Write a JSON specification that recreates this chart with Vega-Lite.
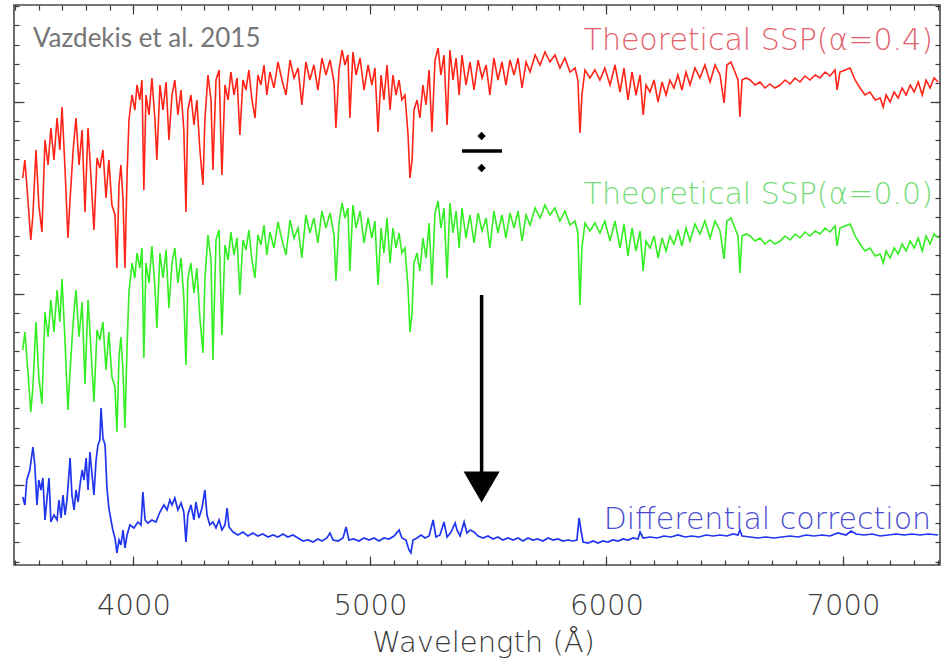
{
"$schema": "https://vega.github.io/schema/vega-lite/v6.json",
"width": 926, "height": 560,
"autosize": {"type": "none"},
"padding": {"left": 14, "top": 5, "right": 4, "bottom": 94},
"background": "white",
"config": {
  "view": {"stroke": "#4a4a4a", "strokeWidth": 1.6},
  "axis": {"domain": false, "grid": false, "tickColor": "#3c3c3c", "tickWidth": 1.2, "labelFont": "DejaVu Sans", "titleFont": "DejaVu Sans"}
},
"resolve": {"axis": {"x": "independent", "y": "independent"}},
"datasets": {
"red": [
{"wavelength":3532,"flux":387},{"wavelength":3541,"flux":405},{"wavelength":3554,"flux":365},{"wavelength":3566,"flux":325},{"wavelength":3575,"flux":350},{"wavelength":3588,"flux":415},{"wavelength":3600,"flux":360},{"wavelength":3613,"flux":333},{"wavelength":3626,"flux":425},{"wavelength":3639,"flux":400},{"wavelength":3651,"flux":437},{"wavelength":3664,"flux":405},{"wavelength":3677,"flux":447},{"wavelength":3689,"flux":415},{"wavelength":3698,"flux":458},{"wavelength":3711,"flux":395},{"wavelength":3723,"flux":327},{"wavelength":3732,"flux":365},{"wavelength":3745,"flux":415},{"wavelength":3757,"flux":447},{"wavelength":3770,"flux":400},{"wavelength":3783,"flux":435},{"wavelength":3795,"flux":353},{"wavelength":3808,"flux":437},{"wavelength":3820,"flux":390},{"wavelength":3833,"flux":335},{"wavelength":3846,"flux":407},{"wavelength":3858,"flux":397},{"wavelength":3871,"flux":415},{"wavelength":3884,"flux":367},{"wavelength":3896,"flux":405},{"wavelength":3909,"flux":360},{"wavelength":3922,"flux":350},{"wavelength":3930,"flux":297},{"wavelength":3939,"flux":380},{"wavelength":3947,"flux":400},{"wavelength":3956,"flux":365},{"wavelength":3964,"flux":297},{"wavelength":3973,"flux":390},{"wavelength":3981,"flux":445},{"wavelength":3994,"flux":470},{"wavelength":4006,"flux":455},{"wavelength":4015,"flux":480},{"wavelength":4027,"flux":465},{"wavelength":4036,"flux":485},{"wavelength":4044,"flux":375},{"wavelength":4053,"flux":470},{"wavelength":4066,"flux":450},{"wavelength":4078,"flux":487},{"wavelength":4091,"flux":445},{"wavelength":4099,"flux":405},{"wavelength":4112,"flux":480},{"wavelength":4125,"flux":455},{"wavelength":4138,"flux":483},{"wavelength":4150,"flux":425},{"wavelength":4163,"flux":470},{"wavelength":4175,"flux":485},{"wavelength":4188,"flux":450},{"wavelength":4201,"flux":475},{"wavelength":4213,"flux":435},{"wavelength":4222,"flux":353},{"wavelength":4230,"flux":455},{"wavelength":4243,"flux":470},{"wavelength":4256,"flux":440},{"wavelength":4268,"flux":465},{"wavelength":4281,"flux":415},{"wavelength":4294,"flux":380},{"wavelength":4302,"flux":445},{"wavelength":4315,"flux":490},{"wavelength":4328,"flux":465},{"wavelength":4336,"flux":395},{"wavelength":4349,"flux":485},{"wavelength":4362,"flux":495},{"wavelength":4374,"flux":390},{"wavelength":4387,"flux":480},{"wavelength":4400,"flux":465},{"wavelength":4412,"flux":493},{"wavelength":4425,"flux":470},{"wavelength":4438,"flux":487},{"wavelength":4450,"flux":430},{"wavelength":4463,"flux":485},{"wavelength":4476,"flux":475},{"wavelength":4488,"flux":495},{"wavelength":4501,"flux":465},{"wavelength":4514,"flux":447},{"wavelength":4526,"flux":490},{"wavelength":4539,"flux":480},{"wavelength":4552,"flux":500},{"wavelength":4564,"flux":470},{"wavelength":4577,"flux":493},{"wavelength":4594,"flux":477},{"wavelength":4611,"flux":503},{"wavelength":4628,"flux":485},{"wavelength":4645,"flux":470},{"wavelength":4662,"flux":505},{"wavelength":4679,"flux":487},{"wavelength":4696,"flux":497},{"wavelength":4712,"flux":460},{"wavelength":4729,"flux":503},{"wavelength":4746,"flux":485},{"wavelength":4763,"flux":500},{"wavelength":4780,"flux":475},{"wavelength":4797,"flux":507},{"wavelength":4814,"flux":490},{"wavelength":4831,"flux":505},{"wavelength":4848,"flux":483},{"wavelength":4856,"flux":437},{"wavelength":4869,"flux":495},{"wavelength":4882,"flux":515},{"wavelength":4894,"flux":500},{"wavelength":4907,"flux":510},{"wavelength":4915,"flux":447},{"wavelength":4928,"flux":513},{"wavelength":4941,"flux":490},{"wavelength":4958,"flux":507},{"wavelength":4975,"flux":475},{"wavelength":4992,"flux":500},{"wavelength":5008,"flux":480},{"wavelength":5021,"flux":497},{"wavelength":5034,"flux":433},{"wavelength":5047,"flux":490},{"wavelength":5059,"flux":465},{"wavelength":5072,"flux":500},{"wavelength":5085,"flux":455},{"wavelength":5097,"flux":490},{"wavelength":5110,"flux":470},{"wavelength":5123,"flux":485},{"wavelength":5135,"flux":465},{"wavelength":5148,"flux":470},{"wavelength":5161,"flux":430},{"wavelength":5169,"flux":387},{"wavelength":5178,"flux":405},{"wavelength":5186,"flux":455},{"wavelength":5199,"flux":465},{"wavelength":5211,"flux":447},{"wavelength":5224,"flux":480},{"wavelength":5237,"flux":460},{"wavelength":5250,"flux":495},{"wavelength":5262,"flux":433},{"wavelength":5275,"flux":505},{"wavelength":5288,"flux":517},{"wavelength":5300,"flux":490},{"wavelength":5313,"flux":510},{"wavelength":5326,"flux":440},{"wavelength":5338,"flux":515},{"wavelength":5351,"flux":485},{"wavelength":5364,"flux":507},{"wavelength":5377,"flux":470},{"wavelength":5389,"flux":510},{"wavelength":5406,"flux":480},{"wavelength":5423,"flux":503},{"wavelength":5440,"flux":475},{"wavelength":5457,"flux":505},{"wavelength":5474,"flux":487},{"wavelength":5491,"flux":500},{"wavelength":5507,"flux":470},{"wavelength":5524,"flux":507},{"wavelength":5541,"flux":485},{"wavelength":5558,"flux":503},{"wavelength":5575,"flux":480},{"wavelength":5592,"flux":505},{"wavelength":5609,"flux":490},{"wavelength":5626,"flux":507},{"wavelength":5643,"flux":477},{"wavelength":5660,"flux":503},{"wavelength":5677,"flux":493},{"wavelength":5698,"flux":510},{"wavelength":5719,"flux":500},{"wavelength":5740,"flux":513},{"wavelength":5761,"flux":503},{"wavelength":5782,"flux":510},{"wavelength":5803,"flux":497},{"wavelength":5824,"flux":507},{"wavelength":5846,"flux":493},{"wavelength":5867,"flux":497},{"wavelength":5879,"flux":485},{"wavelength":5888,"flux":432},{"wavelength":5896,"flux":470},{"wavelength":5909,"flux":495},{"wavelength":5930,"flux":487},{"wavelength":5951,"flux":495},{"wavelength":5972,"flux":485},{"wavelength":5993,"flux":497},{"wavelength":6015,"flux":480},{"wavelength":6036,"flux":500},{"wavelength":6057,"flux":473},{"wavelength":6074,"flux":497},{"wavelength":6091,"flux":465},{"wavelength":6108,"flux":493},{"wavelength":6125,"flux":470},{"wavelength":6142,"flux":490},{"wavelength":6155,"flux":450},{"wavelength":6167,"flux":480},{"wavelength":6184,"flux":473},{"wavelength":6201,"flux":485},{"wavelength":6218,"flux":463},{"wavelength":6235,"flux":483},{"wavelength":6252,"flux":470},{"wavelength":6268,"flux":485},{"wavelength":6285,"flux":477},{"wavelength":6302,"flux":490},{"wavelength":6319,"flux":475},{"wavelength":6336,"flux":493},{"wavelength":6353,"flux":480},{"wavelength":6374,"flux":497},{"wavelength":6395,"flux":487},{"wavelength":6416,"flux":500},{"wavelength":6438,"flux":483},{"wavelength":6459,"flux":500},{"wavelength":6480,"flux":490},{"wavelength":6497,"flux":462},{"wavelength":6509,"flux":500},{"wavelength":6526,"flux":503},{"wavelength":6543,"flux":493},{"wavelength":6556,"flux":485},{"wavelength":6564,"flux":448},{"wavelength":6573,"flux":485},{"wavelength":6590,"flux":487},{"wavelength":6607,"flux":485},{"wavelength":6628,"flux":480},{"wavelength":6649,"flux":483},{"wavelength":6670,"flux":477},{"wavelength":6691,"flux":481},{"wavelength":6712,"flux":477},{"wavelength":6734,"flux":480},{"wavelength":6755,"flux":485},{"wavelength":6776,"flux":481},{"wavelength":6797,"flux":487},{"wavelength":6818,"flux":483},{"wavelength":6839,"flux":489},{"wavelength":6860,"flux":485},{"wavelength":6882,"flux":490},{"wavelength":6903,"flux":487},{"wavelength":6924,"flux":493},{"wavelength":6945,"flux":489},{"wavelength":6966,"flux":495},{"wavelength":6975,"flux":475},{"wavelength":6987,"flux":493},{"wavelength":7009,"flux":495},{"wavelength":7030,"flux":497},{"wavelength":7051,"flux":485},{"wavelength":7072,"flux":477},{"wavelength":7093,"flux":470},{"wavelength":7114,"flux":473},{"wavelength":7136,"flux":465},{"wavelength":7157,"flux":467},{"wavelength":7170,"flux":458},{"wavelength":7182,"flux":470},{"wavelength":7199,"flux":463},{"wavelength":7216,"flux":473},{"wavelength":7233,"flux":467},{"wavelength":7250,"flux":477},{"wavelength":7267,"flux":470},{"wavelength":7284,"flux":480},{"wavelength":7301,"flux":473},{"wavelength":7318,"flux":483},{"wavelength":7335,"flux":470},{"wavelength":7351,"flux":485},{"wavelength":7368,"flux":477},{"wavelength":7385,"flux":487},{"wavelength":7402,"flux":483}
],
"green": [
{"wavelength":3532,"flux":215},{"wavelength":3541,"flux":233},{"wavelength":3554,"flux":193},{"wavelength":3566,"flux":153},{"wavelength":3575,"flux":178},{"wavelength":3588,"flux":243},{"wavelength":3600,"flux":188},{"wavelength":3613,"flux":161},{"wavelength":3626,"flux":253},{"wavelength":3639,"flux":228},{"wavelength":3651,"flux":265},{"wavelength":3664,"flux":233},{"wavelength":3677,"flux":275},{"wavelength":3689,"flux":243},{"wavelength":3698,"flux":286},{"wavelength":3711,"flux":223},{"wavelength":3723,"flux":155},{"wavelength":3732,"flux":193},{"wavelength":3745,"flux":243},{"wavelength":3757,"flux":275},{"wavelength":3770,"flux":228},{"wavelength":3783,"flux":263},{"wavelength":3795,"flux":181},{"wavelength":3808,"flux":265},{"wavelength":3820,"flux":218},{"wavelength":3833,"flux":163},{"wavelength":3846,"flux":235},{"wavelength":3858,"flux":225},{"wavelength":3871,"flux":243},{"wavelength":3884,"flux":195},{"wavelength":3896,"flux":233},{"wavelength":3909,"flux":188},{"wavelength":3922,"flux":178},{"wavelength":3930,"flux":133},{"wavelength":3939,"flux":208},{"wavelength":3947,"flux":228},{"wavelength":3956,"flux":193},{"wavelength":3964,"flux":137},{"wavelength":3973,"flux":218},{"wavelength":3981,"flux":273},{"wavelength":3994,"flux":302},{"wavelength":4006,"flux":287},{"wavelength":4015,"flux":312},{"wavelength":4027,"flux":297},{"wavelength":4036,"flux":317},{"wavelength":4044,"flux":207},{"wavelength":4053,"flux":302},{"wavelength":4066,"flux":282},{"wavelength":4078,"flux":319},{"wavelength":4091,"flux":277},{"wavelength":4099,"flux":237},{"wavelength":4112,"flux":312},{"wavelength":4125,"flux":287},{"wavelength":4138,"flux":315},{"wavelength":4150,"flux":257},{"wavelength":4163,"flux":302},{"wavelength":4175,"flux":317},{"wavelength":4188,"flux":282},{"wavelength":4201,"flux":307},{"wavelength":4213,"flux":267},{"wavelength":4222,"flux":200},{"wavelength":4230,"flux":287},{"wavelength":4243,"flux":302},{"wavelength":4256,"flux":272},{"wavelength":4268,"flux":297},{"wavelength":4281,"flux":247},{"wavelength":4294,"flux":212},{"wavelength":4302,"flux":285},{"wavelength":4315,"flux":330},{"wavelength":4328,"flux":305},{"wavelength":4336,"flux":205},{"wavelength":4349,"flux":325},{"wavelength":4362,"flux":335},{"wavelength":4374,"flux":230},{"wavelength":4387,"flux":320},{"wavelength":4400,"flux":305},{"wavelength":4412,"flux":333},{"wavelength":4425,"flux":310},{"wavelength":4438,"flux":327},{"wavelength":4450,"flux":270},{"wavelength":4463,"flux":325},{"wavelength":4476,"flux":315},{"wavelength":4488,"flux":335},{"wavelength":4501,"flux":305},{"wavelength":4514,"flux":287},{"wavelength":4526,"flux":330},{"wavelength":4539,"flux":320},{"wavelength":4552,"flux":340},{"wavelength":4564,"flux":310},{"wavelength":4577,"flux":333},{"wavelength":4594,"flux":317},{"wavelength":4611,"flux":343},{"wavelength":4628,"flux":325},{"wavelength":4645,"flux":310},{"wavelength":4662,"flux":345},{"wavelength":4679,"flux":327},{"wavelength":4696,"flux":337},{"wavelength":4712,"flux":307},{"wavelength":4729,"flux":350},{"wavelength":4746,"flux":332},{"wavelength":4763,"flux":347},{"wavelength":4780,"flux":322},{"wavelength":4797,"flux":354},{"wavelength":4814,"flux":337},{"wavelength":4831,"flux":352},{"wavelength":4848,"flux":330},{"wavelength":4856,"flux":284},{"wavelength":4869,"flux":342},{"wavelength":4882,"flux":362},{"wavelength":4894,"flux":347},{"wavelength":4907,"flux":357},{"wavelength":4915,"flux":294},{"wavelength":4928,"flux":360},{"wavelength":4941,"flux":337},{"wavelength":4958,"flux":354},{"wavelength":4975,"flux":322},{"wavelength":4992,"flux":347},{"wavelength":5008,"flux":327},{"wavelength":5021,"flux":344},{"wavelength":5034,"flux":280},{"wavelength":5047,"flux":337},{"wavelength":5059,"flux":312},{"wavelength":5072,"flux":347},{"wavelength":5085,"flux":302},{"wavelength":5097,"flux":337},{"wavelength":5110,"flux":317},{"wavelength":5123,"flux":332},{"wavelength":5135,"flux":312},{"wavelength":5148,"flux":317},{"wavelength":5161,"flux":277},{"wavelength":5169,"flux":233},{"wavelength":5178,"flux":252},{"wavelength":5186,"flux":302},{"wavelength":5199,"flux":312},{"wavelength":5211,"flux":294},{"wavelength":5224,"flux":327},{"wavelength":5237,"flux":307},{"wavelength":5250,"flux":342},{"wavelength":5262,"flux":280},{"wavelength":5275,"flux":352},{"wavelength":5288,"flux":364},{"wavelength":5300,"flux":337},{"wavelength":5313,"flux":357},{"wavelength":5326,"flux":287},{"wavelength":5338,"flux":362},{"wavelength":5351,"flux":332},{"wavelength":5364,"flux":354},{"wavelength":5377,"flux":317},{"wavelength":5389,"flux":357},{"wavelength":5406,"flux":327},{"wavelength":5423,"flux":350},{"wavelength":5440,"flux":322},{"wavelength":5457,"flux":352},{"wavelength":5474,"flux":334},{"wavelength":5491,"flux":347},{"wavelength":5507,"flux":317},{"wavelength":5524,"flux":354},{"wavelength":5541,"flux":332},{"wavelength":5558,"flux":350},{"wavelength":5575,"flux":327},{"wavelength":5592,"flux":352},{"wavelength":5609,"flux":337},{"wavelength":5626,"flux":354},{"wavelength":5643,"flux":324},{"wavelength":5660,"flux":350},{"wavelength":5677,"flux":340},{"wavelength":5698,"flux":357},{"wavelength":5719,"flux":347},{"wavelength":5740,"flux":360},{"wavelength":5761,"flux":350},{"wavelength":5782,"flux":357},{"wavelength":5803,"flux":344},{"wavelength":5824,"flux":354},{"wavelength":5846,"flux":340},{"wavelength":5867,"flux":344},{"wavelength":5879,"flux":332},{"wavelength":5888,"flux":260},{"wavelength":5896,"flux":317},{"wavelength":5909,"flux":342},{"wavelength":5930,"flux":334},{"wavelength":5951,"flux":342},{"wavelength":5972,"flux":332},{"wavelength":5993,"flux":344},{"wavelength":6015,"flux":324},{"wavelength":6036,"flux":344},{"wavelength":6057,"flux":317},{"wavelength":6074,"flux":341},{"wavelength":6091,"flux":309},{"wavelength":6108,"flux":337},{"wavelength":6125,"flux":314},{"wavelength":6142,"flux":334},{"wavelength":6155,"flux":294},{"wavelength":6167,"flux":324},{"wavelength":6184,"flux":317},{"wavelength":6201,"flux":329},{"wavelength":6218,"flux":307},{"wavelength":6235,"flux":327},{"wavelength":6252,"flux":314},{"wavelength":6268,"flux":329},{"wavelength":6285,"flux":321},{"wavelength":6302,"flux":334},{"wavelength":6319,"flux":319},{"wavelength":6336,"flux":337},{"wavelength":6353,"flux":324},{"wavelength":6374,"flux":341},{"wavelength":6395,"flux":331},{"wavelength":6416,"flux":344},{"wavelength":6438,"flux":327},{"wavelength":6459,"flux":344},{"wavelength":6480,"flux":334},{"wavelength":6497,"flux":306},{"wavelength":6509,"flux":344},{"wavelength":6526,"flux":347},{"wavelength":6543,"flux":337},{"wavelength":6556,"flux":329},{"wavelength":6564,"flux":292},{"wavelength":6573,"flux":329},{"wavelength":6590,"flux":331},{"wavelength":6607,"flux":329},{"wavelength":6628,"flux":324},{"wavelength":6649,"flux":327},{"wavelength":6670,"flux":321},{"wavelength":6691,"flux":325},{"wavelength":6712,"flux":321},{"wavelength":6734,"flux":324},{"wavelength":6755,"flux":329},{"wavelength":6776,"flux":325},{"wavelength":6797,"flux":331},{"wavelength":6818,"flux":327},{"wavelength":6839,"flux":333},{"wavelength":6860,"flux":329},{"wavelength":6882,"flux":334},{"wavelength":6903,"flux":331},{"wavelength":6924,"flux":337},{"wavelength":6945,"flux":333},{"wavelength":6966,"flux":339},{"wavelength":6975,"flux":319},{"wavelength":6987,"flux":337},{"wavelength":7009,"flux":339},{"wavelength":7030,"flux":341},{"wavelength":7051,"flux":329},{"wavelength":7072,"flux":321},{"wavelength":7093,"flux":314},{"wavelength":7114,"flux":317},{"wavelength":7136,"flux":309},{"wavelength":7157,"flux":311},{"wavelength":7170,"flux":302},{"wavelength":7182,"flux":314},{"wavelength":7199,"flux":307},{"wavelength":7216,"flux":317},{"wavelength":7233,"flux":311},{"wavelength":7250,"flux":321},{"wavelength":7267,"flux":314},{"wavelength":7284,"flux":324},{"wavelength":7301,"flux":317},{"wavelength":7318,"flux":327},{"wavelength":7335,"flux":314},{"wavelength":7351,"flux":329},{"wavelength":7368,"flux":321},{"wavelength":7385,"flux":331},{"wavelength":7402,"flux":327}
],
"blue": [
{"wavelength":3532,"flux":68},{"wavelength":3541,"flux":60},{"wavelength":3549,"flux":85},{"wavelength":3562,"flux":95},{"wavelength":3575,"flux":118},{"wavelength":3583,"flux":100},{"wavelength":3592,"flux":60},{"wavelength":3600,"flux":85},{"wavelength":3609,"flux":75},{"wavelength":3617,"flux":87},{"wavelength":3626,"flux":45},{"wavelength":3634,"flux":65},{"wavelength":3643,"flux":87},{"wavelength":3651,"flux":43},{"wavelength":3664,"flux":50},{"wavelength":3677,"flux":45},{"wavelength":3685,"flux":65},{"wavelength":3694,"flux":47},{"wavelength":3702,"flux":70},{"wavelength":3711,"flux":50},{"wavelength":3719,"flux":65},{"wavelength":3728,"flux":93},{"wavelength":3732,"flux":107},{"wavelength":3740,"flux":70},{"wavelength":3749,"flux":55},{"wavelength":3757,"flux":75},{"wavelength":3766,"flux":63},{"wavelength":3774,"flux":80},{"wavelength":3783,"flux":95},{"wavelength":3791,"flux":85},{"wavelength":3800,"flux":107},{"wavelength":3808,"flux":75},{"wavelength":3816,"flux":113},{"wavelength":3825,"flux":90},{"wavelength":3833,"flux":70},{"wavelength":3842,"flux":105},{"wavelength":3850,"flux":120},{"wavelength":3858,"flux":125},{"wavelength":3863,"flux":157},{"wavelength":3871,"flux":127},{"wavelength":3880,"flux":120},{"wavelength":3888,"flux":77},{"wavelength":3896,"flux":57},{"wavelength":3905,"flux":45},{"wavelength":3913,"flux":35},{"wavelength":3922,"flux":27},{"wavelength":3930,"flux":12},{"wavelength":3939,"flux":25},{"wavelength":3947,"flux":20},{"wavelength":3956,"flux":35},{"wavelength":3964,"flux":17},{"wavelength":3973,"flux":30},{"wavelength":3985,"flux":40},{"wavelength":4002,"flux":37},{"wavelength":4019,"flux":43},{"wavelength":4032,"flux":40},{"wavelength":4040,"flux":73},{"wavelength":4049,"flux":45},{"wavelength":4061,"flux":42},{"wavelength":4078,"flux":45},{"wavelength":4095,"flux":43},{"wavelength":4112,"flux":53},{"wavelength":4129,"flux":60},{"wavelength":4142,"flux":55},{"wavelength":4154,"flux":65},{"wavelength":4163,"flux":60},{"wavelength":4175,"flux":67},{"wavelength":4188,"flux":55},{"wavelength":4201,"flux":62},{"wavelength":4213,"flux":53},{"wavelength":4222,"flux":23},{"wavelength":4230,"flux":50},{"wavelength":4243,"flux":60},{"wavelength":4256,"flux":45},{"wavelength":4264,"flux":63},{"wavelength":4277,"flux":47},{"wavelength":4290,"flux":57},{"wavelength":4302,"flux":75},{"wavelength":4311,"flux":50},{"wavelength":4323,"flux":40},{"wavelength":4336,"flux":43},{"wavelength":4349,"flux":37},{"wavelength":4362,"flux":45},{"wavelength":4374,"flux":35},{"wavelength":4387,"flux":40},{"wavelength":4396,"flux":57},{"wavelength":4404,"flux":38},{"wavelength":4421,"flux":33},{"wavelength":4442,"flux":30},{"wavelength":4463,"flux":33},{"wavelength":4484,"flux":29},{"wavelength":4505,"flux":32},{"wavelength":4526,"flux":29},{"wavelength":4547,"flux":31},{"wavelength":4569,"flux":28},{"wavelength":4590,"flux":30},{"wavelength":4611,"flux":28},{"wavelength":4632,"flux":31},{"wavelength":4653,"flux":28},{"wavelength":4674,"flux":30},{"wavelength":4696,"flux":27},{"wavelength":4717,"flux":24},{"wavelength":4738,"flux":25},{"wavelength":4759,"flux":23},{"wavelength":4780,"flux":26},{"wavelength":4797,"flux":24},{"wavelength":4818,"flux":27},{"wavelength":4831,"flux":32},{"wavelength":4844,"flux":25},{"wavelength":4865,"flux":24},{"wavelength":4886,"flux":27},{"wavelength":4899,"flux":38},{"wavelength":4911,"flux":25},{"wavelength":4932,"flux":26},{"wavelength":4953,"flux":24},{"wavelength":4975,"flux":27},{"wavelength":4996,"flux":25},{"wavelength":5017,"flux":27},{"wavelength":5038,"flux":24},{"wavelength":5059,"flux":27},{"wavelength":5080,"flux":26},{"wavelength":5102,"flux":29},{"wavelength":5123,"flux":35},{"wavelength":5135,"flux":27},{"wavelength":5152,"flux":25},{"wavelength":5165,"flux":15},{"wavelength":5173,"flux":12},{"wavelength":5182,"flux":25},{"wavelength":5199,"flux":27},{"wavelength":5216,"flux":30},{"wavelength":5233,"flux":27},{"wavelength":5250,"flux":29},{"wavelength":5267,"flux":45},{"wavelength":5279,"flux":28},{"wavelength":5296,"flux":30},{"wavelength":5313,"flux":43},{"wavelength":5326,"flux":28},{"wavelength":5343,"flux":33},{"wavelength":5360,"flux":42},{"wavelength":5368,"flux":35},{"wavelength":5381,"flux":29},{"wavelength":5398,"flux":43},{"wavelength":5410,"flux":32},{"wavelength":5423,"flux":35},{"wavelength":5440,"flux":33},{"wavelength":5457,"flux":29},{"wavelength":5478,"flux":27},{"wavelength":5499,"flux":29},{"wavelength":5520,"flux":26},{"wavelength":5541,"flux":28},{"wavelength":5562,"flux":25},{"wavelength":5584,"flux":27},{"wavelength":5605,"flux":25},{"wavelength":5626,"flux":27},{"wavelength":5647,"flux":24},{"wavelength":5668,"flux":27},{"wavelength":5689,"flux":25},{"wavelength":5710,"flux":26},{"wavelength":5731,"flux":24},{"wavelength":5753,"flux":27},{"wavelength":5774,"flux":25},{"wavelength":5795,"flux":26},{"wavelength":5816,"flux":24},{"wavelength":5837,"flux":25},{"wavelength":5858,"flux":24},{"wavelength":5875,"flux":25},{"wavelength":5884,"flux":47},{"wavelength":5892,"flux":35},{"wavelength":5901,"flux":23},{"wavelength":5922,"flux":22},{"wavelength":5943,"flux":24},{"wavelength":5964,"flux":22},{"wavelength":5985,"flux":24},{"wavelength":6006,"flux":23},{"wavelength":6027,"flux":25},{"wavelength":6049,"flux":24},{"wavelength":6070,"flux":26},{"wavelength":6091,"flux":25},{"wavelength":6112,"flux":27},{"wavelength":6133,"flux":26},{"wavelength":6142,"flux":33},{"wavelength":6155,"flux":27},{"wavelength":6184,"flux":28},{"wavelength":6214,"flux":27},{"wavelength":6243,"flux":29},{"wavelength":6273,"flux":28},{"wavelength":6302,"flux":30},{"wavelength":6332,"flux":28},{"wavelength":6361,"flux":29},{"wavelength":6391,"flux":28},{"wavelength":6421,"flux":30},{"wavelength":6450,"flux":29},{"wavelength":6480,"flux":30},{"wavelength":6509,"flux":29},{"wavelength":6535,"flux":31},{"wavelength":6556,"flux":30},{"wavelength":6564,"flux":35},{"wavelength":6573,"flux":29},{"wavelength":6607,"flux":28},{"wavelength":6640,"flux":27},{"wavelength":6674,"flux":28},{"wavelength":6708,"flux":27},{"wavelength":6742,"flux":28},{"wavelength":6776,"flux":29},{"wavelength":6810,"flux":28},{"wavelength":6844,"flux":30},{"wavelength":6877,"flux":29},{"wavelength":6911,"flux":30},{"wavelength":6945,"flux":29},{"wavelength":6979,"flux":32},{"wavelength":7013,"flux":30},{"wavelength":7034,"flux":34},{"wavelength":7055,"flux":31},{"wavelength":7089,"flux":30},{"wavelength":7123,"flux":31},{"wavelength":7157,"flux":29},{"wavelength":7191,"flux":30},{"wavelength":7224,"flux":31},{"wavelength":7258,"flux":30},{"wavelength":7292,"flux":31},{"wavelength":7326,"flux":30},{"wavelength":7360,"flux":31},{"wavelength":7402,"flux":30}
],
"labels": [
{"wavelength":7380,"flux":515,"label":"Theoretical SSP(α=0.4)","series":"alpha04"},
{"wavelength":7380,"flux":361,"label":"Theoretical SSP(α=0.0)","series":"alpha00"},
{"wavelength":7372,"flux":36,"label":"Differential correction","series":"diff"}
]
},
"layer": [
{
  "data": {"name": "red"},
  "mark": {"type": "line", "color": "#ff2418", "strokeWidth": 1.6},
  "encoding": {
    "x": {"field": "wavelength", "type": "quantitative", "scale": {"domain": [3495, 7410], "nice": false, "zero": false},
      "axis": {"orient": "bottom", "values": [4000, 5000, 6000, 7000], "format": "d", "tickSize": -9, "labelFontSize": 29, "labelFontWeight": 300, "labelColor": "#3a3a3a", "labelBaseline": "alphabetic", "labelPadding": 58, "labelFlush": false, "labelOverlap": false,
        "title": "Wavelength (Å)", "titleFontSize": 29, "titleFontWeight": 300, "titleColor": "#3a3a3a", "titleBaseline": "alphabetic", "titleY": 86, "titleX": 469, "titleAlign": "center"}},
    "y": {"field": "flux", "type": "quantitative", "scale": {"domain": [0, 560], "nice": false, "zero": false},
      "axis": {"orient": "left", "values": [80, 271.5, 463], "tickSize": -10, "labels": false, "title": null}}
  }
},
{
  "data": {"name": "green"},
  "mark": {"type": "line", "color": "#33ee22", "strokeWidth": 1.6},
  "encoding": {
    "x": {"field": "wavelength", "type": "quantitative", "scale": {"domain": [3495, 7410], "nice": false, "zero": false},
      "axis": {"orient": "bottom", "values": [3500,3600,3700,3800,3900,4000,4100,4200,4300,4400,4500,4600,4700,4800,4900,5000,5100,5200,5300,5400,5500,5600,5700,5800,5900,6000,6100,6200,6300,6400,6500,6600,6700,6800,6900,7000,7100,7200,7300,7400], "tickSize": -5, "labels": false, "title": null}},
    "y": {"field": "flux", "type": "quantitative", "scale": {"domain": [0, 560], "nice": false, "zero": false},
      "axis": {"orient": "left", "values": [3.4,22.55,41.7,60.85,80,99.15,118.3,137.45,156.6,175.75,194.9,214.05,233.2,252.35,271.5,290.65,309.8,328.95,348.1,367.25,386.4,405.55,424.7,443.85,463,482.15,501.3,520.45,539.6,558.75], "tickSize": -5, "labels": false, "title": null}}
  }
},
{
  "data": {"name": "blue"},
  "mark": {"type": "line", "color": "#1f35ee", "strokeWidth": 1.7},
  "encoding": {
    "x": {"field": "wavelength", "type": "quantitative", "scale": {"domain": [3495, 7410], "nice": false, "zero": false},
      "axis": {"orient": "top", "values": [4000, 5000, 6000, 7000], "tickSize": -9, "labels": false, "title": null}},
    "y": {"field": "flux", "type": "quantitative", "scale": {"domain": [0, 560], "nice": false, "zero": false},
      "axis": {"orient": "right", "values": [80, 271.5, 463], "tickSize": -10, "labels": false, "title": null}}
  }
},
{
  "data": {"name": "labels"},
  "mark": {"type": "text", "font": "DejaVu Sans", "fontSize": 30, "fontWeight": 300, "align": "right", "baseline": "alphabetic"},
  "encoding": {
    "x": {"field": "wavelength", "type": "quantitative", "scale": {"domain": [3495, 7410], "nice": false, "zero": false},
      "axis": {"orient": "top", "values": [3500,3600,3700,3800,3900,4000,4100,4200,4300,4400,4500,4600,4700,4800,4900,5000,5100,5200,5300,5400,5500,5600,5700,5800,5900,6000,6100,6200,6300,6400,6500,6600,6700,6800,6900,7000,7100,7200,7300,7400], "tickSize": -5, "labels": false, "title": null}},
    "y": {"field": "flux", "type": "quantitative", "scale": {"domain": [0, 560], "nice": false, "zero": false},
      "axis": {"orient": "right", "values": [3.4,22.55,41.7,60.85,80,99.15,118.3,137.45,156.6,175.75,194.9,214.05,233.2,252.35,271.5,290.65,309.8,328.95,348.1,367.25,386.4,405.55,424.7,443.85,463,482.15,501.3,520.45,539.6,558.75], "tickSize": -5, "labels": false, "title": null}},
    "text": {"field": "label"},
    "color": {"field": "series", "type": "nominal", "scale": {"domain": ["alpha04", "alpha00", "diff"], "range": ["#e2606a", "#74dc78", "#4a4ad2"]}, "legend": null}
  }
},
{
  "data": {"values": [{"wavelength": 5472, "flux": 270, "flux_end": 90}]},
  "mark": {"type": "rule", "color": "black", "strokeWidth": 3.5},
  "encoding": {
    "x": {"field": "wavelength", "type": "quantitative", "scale": {"domain": [3495, 7410], "nice": false, "zero": false}, "axis": null},
    "y": {"field": "flux", "type": "quantitative", "scale": {"domain": [0, 560], "nice": false, "zero": false}, "axis": null},
    "y2": {"field": "flux_end"}
  }
},
{
  "data": {"values": [{"wavelength": 5472, "flux": 78}]},
  "mark": {"type": "point", "shape": "triangle-down", "size": 1300, "filled": true, "color": "black", "opacity": 1},
  "encoding": {
    "x": {"field": "wavelength", "type": "quantitative", "scale": {"domain": [3495, 7410], "nice": false, "zero": false}, "axis": null},
    "y": {"field": "flux", "type": "quantitative", "scale": {"domain": [0, 560], "nice": false, "zero": false}, "axis": null}
  }
},
{
  "data": {"values": [{"wavelength": 5389, "wavelength_end": 5558, "flux": 414}]},
  "mark": {"type": "rule", "color": "black", "strokeWidth": 3.5},
  "encoding": {
    "x": {"field": "wavelength", "type": "quantitative", "scale": {"domain": [3495, 7410], "nice": false, "zero": false}, "axis": null},
    "x2": {"field": "wavelength_end"},
    "y": {"field": "flux", "type": "quantitative", "scale": {"domain": [0, 560], "nice": false, "zero": false}, "axis": null}
  }
},
{
  "data": {"values": [{"wavelength": 5472, "flux": 429}, {"wavelength": 5472, "flux": 397}]},
  "mark": {"type": "point", "shape": "diamond", "size": 70, "filled": true, "color": "black", "opacity": 1},
  "encoding": {
    "x": {"field": "wavelength", "type": "quantitative", "scale": {"domain": [3495, 7410], "nice": false, "zero": false}, "axis": null},
    "y": {"field": "flux", "type": "quantitative", "scale": {"domain": [0, 560], "nice": false, "zero": false}, "axis": null}
  }
},
{
  "data": {"values": [{"wavelength": 3575, "flux": 518, "label": "Vazdekis et al. 2015"}]},
  "mark": {"type": "text", "font": "Lato", "fontSize": 26, "color": "#767676", "align": "left", "baseline": "alphabetic"},
  "encoding": {
    "x": {"field": "wavelength", "type": "quantitative", "scale": {"domain": [3495, 7410], "nice": false, "zero": false}, "axis": null},
    "y": {"field": "flux", "type": "quantitative", "scale": {"domain": [0, 560], "nice": false, "zero": false}, "axis": null},
    "text": {"field": "label"}
  }
}
]
}
